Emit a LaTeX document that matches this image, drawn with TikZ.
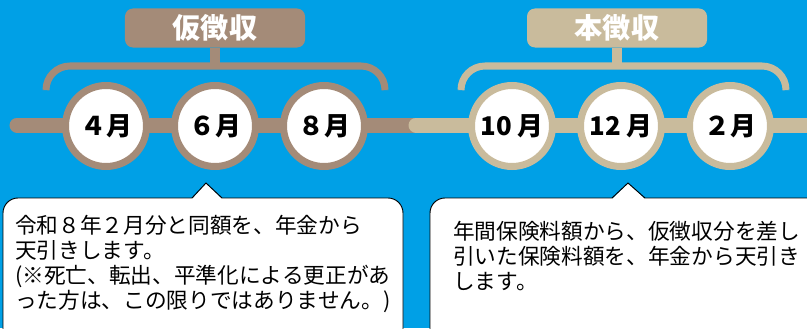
\documentclass[tikz,border=0pt]{standalone}
\usepackage{fontspec}
\newfontfamily\jp{Noto Sans CJK JP}
\definecolor{sky}{HTML}{00A0E6}
\definecolor{kari}{HTML}{A48B78}
\definecolor{hon}{HTML}{C9BB9C}
\begin{document}
\begin{tikzpicture}[x=0.03cm,y=0.03cm,
    month/.style={circle,draw=#1,fill=white,line width=0.21cm,minimum size=2.43cm,inner sep=0pt,font=\jp\bfseries\fontsize{22}{26}\selectfont},
    titlebox/.style={fill=#1,rounded corners=0.24cm,minimum width=5.4cm,minimum height=1.17cm,text=white,font=\jp\bfseries\fontsize{24}{28}\selectfont},
    bracket/.style={draw=#1,line width=0.21cm,rounded corners=0.72cm},
    stem/.style={draw=#1,line width=0.3cm},
    bar/.style={draw=#1,line width=0.45cm,line cap=round},
    callout/.style={fill=white,draw=black,line width=0.8pt,rounded corners=0.45cm},
    note/.style={anchor=north west,inner sep=0pt,align=left,font=\jp\fontsize{18.5}{21.3}\selectfont}]
\fill[sky] (0,0) rectangle (807,328);
\clip (0,0) rectangle (807,328);
% bars
\coordinate (barL) at (17,203);
\coordinate (barM) at (420,203);
\coordinate (barN) at (416,203);
\coordinate (barR) at (830,203);
\draw[bar=kari] (barL) -- (barM);
\draw[bar=hon] (barN) -- (barR);
% months
\node[month=kari] (m4) at (106,202) {４月};
\node[month=kari] (m6) at (215,202) {６月};
\node[month=kari] (m8) at (324,202) {８月};
\node[month=hon] (m10) at (512,202) {10 月};
\node[month=hon] (m12) at (621,202) {12 月};
\node[month=hon] (m2) at (730,202) {２月};
% titles
\node[titlebox=kari] (kari) at (215,300) {仮徴収};
\node[titlebox=hon] (hon) at (617,300) {本徴収};
\draw[stem=kari] (kari.south) -- (kari.south |- 0,262);
\draw[stem=hon] (hon.south) -- (hon.south |- 0,262);
\draw[bracket=kari] (46,238) |- (385,262) -- (385,238);
\draw[bracket=hon] (461,238) |- (786,262) -- (786,238);
% callouts
\draw[callout] (3,-20) rectangle (403,130);
\fill[white] (192,129) -- (206,145) -- (222,129) -- cycle;
\draw[line width=0.8pt] (192,130) -- (206,145) -- (222,130);
\draw[callout] (430,-20) rectangle (840,130);
\fill[white] (612,129) -- (628,145) -- (645,129) -- cycle;
\draw[line width=0.8pt] (612,130) -- (628,145) -- (645,130);
\node[note] (note1) at (15,113) {令和８年２月分と同額を、年金から\\天引きします。\\(※死亡、転出、平準化による更正があ\\った方は、この限りではありません。)};
\node[note] (note2) at (453,107) {年間保険料額から、仮徴収分を差し\\引いた保険料額を、年金から天引き\\します。};
\end{tikzpicture}
\end{document}
